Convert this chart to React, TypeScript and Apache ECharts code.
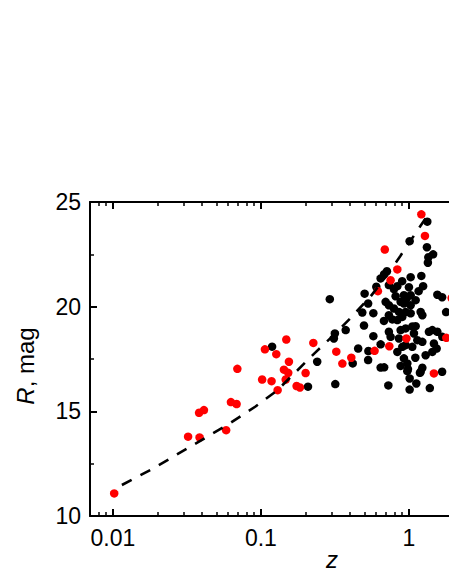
import React, { useEffect, useRef } from "react";
import * as echarts from "echarts";

// ---- data (z = redshift, R = magnitude) ----
const redZ = [0.0102, 0.0322, 0.0385, 0.0382, 0.0412, 0.0582, 0.0627, 0.0685, 0.0693, 0.1064, 0.127, 0.1484, 0.1546, 0.143, 0.153, 0.1019, 0.118, 0.147, 0.1297, 0.1742, 0.1835, 0.2004, 0.226, 0.323, 0.355, 0.408, 0.586, 0.737, 0.962, 1.475, 1.789, 1.213, 1.283, 0.687, 0.835, 0.752, 0.617, 1.944];
const redR = [11.08, 13.79, 13.75, 14.93, 15.06, 14.1, 15.44, 15.35, 17.03, 17.96, 17.73, 18.43, 17.37, 16.99, 16.84, 16.52, 16.44, 16.52, 16.01, 16.21, 16.14, 16.83, 18.27, 17.85, 17.28, 17.56, 17.89, 18.11, 18.48, 16.81, 18.51, 24.41, 23.38, 22.73, 21.78, 21.26, 20.74, 20.41];

const blackZ = [0.119, 0.208, 0.24, 0.292, 0.316, 0.311, 0.318, 0.374, 0.417, 0.454, 0.484, 0.497, 0.502, 0.53, 0.532, 0.53, 0.575, 0.575, 0.644, 0.644, 0.68, 0.726, 0.602, 0.644, 0.68, 0.71, 0.732, 0.792, 0.835, 0.9, 1.011, 1.027, 1.0, 1.027, 1.213, 1.247, 1.331, 1.323, 1.457, 1.352, 1.343, 1.556, 1.676, 1.783, 0.696, 0.732, 0.792, 0.856, 0.879, 0.925, 0.965, 0.925, 1.027, 0.95, 1.027, 1.2, 1.232, 0.732, 0.678, 0.772, 0.835, 0.902, 1.054, 1.11, 0.95, 0.879, 0.732, 0.752, 0.856, 1.081, 1.14, 1.232, 1.365, 1.439, 1.556, 1.681, 1.475, 0.95, 1.054, 0.835, 0.902, 1.297, 1.439, 1.539, 0.879, 0.925, 0.975, 0.985, 1.105, 1.2, 1.232, 1.676, 0.975, 1.011, 1.011, 1.122, 1.187, 1.384, 0.813, 1.11, 1.163];
const blackR = [18.09, 16.18, 17.37, 20.36, 18.72, 18.48, 16.3, 18.88, 17.29, 18.0, 19.72, 19.1, 20.62, 20.15, 17.88, 17.45, 19.69, 18.59, 18.2, 17.09, 17.1, 16.24, 20.95, 21.35, 21.55, 21.69, 21.03, 20.84, 20.98, 21.22, 23.13, 21.41, 20.93, 20.55, 21.47, 20.98, 24.06, 22.84, 22.5, 22.36, 22.1, 20.57, 20.45, 19.74, 20.23, 20.07, 19.91, 19.75, 20.23, 20.15, 20.39, 20.55, 20.07, 19.75, 19.68, 19.75, 19.59, 19.59, 19.32, 19.39, 19.36, 19.51, 19.05, 19.07, 18.96, 18.88, 18.8, 18.56, 18.48, 18.72, 18.4, 18.32, 18.8, 18.88, 18.8, 18.56, 18.24, 18.16, 18.08, 17.84, 18.08, 17.68, 17.84, 18.0, 17.17, 17.53, 17.29, 17.02, 17.56, 16.89, 17.08, 16.89, 16.92, 16.57, 16.04, 16.33, 16.84, 16.11, 20.5, 20.31, 20.74];

// dashed model curve
const curveZ = [0.0115, 0.0179, 0.0244, 0.0333, 0.0454, 0.0621, 0.0914, 0.128, 0.168, 0.23, 0.31, 0.401, 0.548, 0.71, 0.873, 1.104, 1.355];
const curveR = [11.48, 12.2, 12.75, 13.31, 13.87, 14.44, 15.22, 15.98, 16.81, 17.77, 18.64, 19.44, 20.47, 21.5, 22.41, 23.49, 24.42];

// axis ticks
const majorTicksZ = [0.01, 0.1, 1];
const minorTicksZ = [0.008, 0.009, 0.02, 0.03, 0.04, 0.05, 0.06, 0.07, 0.08, 0.09, 0.2, 0.3, 0.4, 0.5, 0.6, 0.7, 0.8, 0.9, 2, 3];
const zMin = 0.007;
const zMax = 3.53;
const rMin = 10;
const rMax = 25;
const rStep = 5;

const lg = (v: number) => Math.log10(v);
const FONT = "'Liberation Sans', Arial, Helvetica, sans-serif";

export default function App() {
  const ref = useRef<HTMLDivElement>(null);
  useEffect(() => {
    if (!ref.current) return;
    const chart = echarts.init(ref.current, undefined, { renderer: "svg" });
    const xBase = {
      type: "value" as const,
      min: lg(zMin),
      max: lg(zMax),
      gridIndex: 0,
      splitLine: { show: false },
      axisLine: { show: true, onZero: false, lineStyle: { color: "#000", width: 2 } },
    };
    const majorVals = majorTicksZ.map(lg);
    const minorVals = minorTicksZ.map(lg);
    chart.setOption({
      animation: false,
      backgroundColor: "#fff",
      grid: { left: 90, top: 202, width: 400, height: 314 },
      xAxis: [
        {
          ...xBase,
          position: "bottom",
          axisTick: { show: true, inside: true, length: 7, customValues: majorVals, lineStyle: { color: "#000", width: 2 } },
          axisLabel: {
            show: true,
            customValues: majorVals,
            margin: 10,
            color: "#000",
            fontSize: 23,
            fontFamily: FONT,
            formatter: (v: number) => String(+Math.pow(10, v).toPrecision(3)),
          },
        },
        {
          ...xBase,
          position: "bottom",
          axisLine: { show: false, onZero: false },
          axisTick: { show: true, inside: true, length: 4, customValues: minorVals, lineStyle: { color: "#000", width: 1.5 } },
          axisLabel: { show: false },
        },
        {
          ...xBase,
          position: "top",
          axisTick: { show: true, inside: true, length: 7, customValues: majorVals, lineStyle: { color: "#000", width: 2 } },
          axisLabel: { show: false },
        },
        {
          ...xBase,
          position: "top",
          axisLine: { show: false, onZero: false },
          axisTick: { show: true, inside: true, length: 4, customValues: minorVals, lineStyle: { color: "#000", width: 1.5 } },
          axisLabel: { show: false },
        },
      ],
      yAxis: [
        {
          type: "value",
          min: rMin,
          max: rMax,
          interval: rStep,
          position: "left",
          splitLine: { show: false },
          axisLine: { show: true, onZero: false, lineStyle: { color: "#000", width: 2 } },
          axisTick: { show: true, inside: true, length: 7, lineStyle: { color: "#000", width: 2 } },
          minorTick: { show: true, splitNumber: 2, length: 4, lineStyle: { color: "#000", width: 1.5 } },
          axisLabel: { margin: 9, color: "#000", fontSize: 23, fontFamily: FONT },
        },
      ],
      graphic: [
        {
          type: "text",
          x: 25,
          y: 366,
          rotation: Math.PI / 2,
          style: {
            text: "{i|R}{n|, mag}",
            align: "center",
            verticalAlign: "middle",
            fill: "#000",
            rich: {
              i: { fontSize: 24, fontStyle: "italic", fontFamily: FONT, fill: "#000" },
              n: { fontSize: 24, fontFamily: FONT, fill: "#000" },
            },
          },
        },
        {
          type: "text",
          x: 332,
          y: 559,
          style: {
            text: "z",
            align: "center",
            verticalAlign: "middle",
            fontSize: 24,
            fontStyle: "italic",
            fontFamily: FONT,
            fill: "#000",
          },
        },
      ],
      series: [
        {
          type: "scatter",
          symbol: "circle",
          symbolSize: 8.5,
          itemStyle: { color: "#000", opacity: 1 },
          z: 2,
          data: blackZ.map((z, i) => [lg(z), blackR[i]]),
        },
        {
          type: "scatter",
          symbol: "circle",
          symbolSize: 8.5,
          itemStyle: { color: "#ff0000", opacity: 1 },
          z: 3,
          data: redZ.map((z, i) => [lg(z), redR[i]]),
        },
        {
          type: "line",
          symbol: "none",
          showSymbol: false,
          z: 4,
          lineStyle: { color: "#000", width: 2.6, type: [11, 10] },
          data: curveZ.map((z, i) => [lg(z), curveR[i]]),
        },
      ],
    });
    return () => chart.dispose();
  }, []);
  return (
    <div style={{ position: "absolute", left: 0, top: 0, width: 449, height: 580, overflow: "hidden", background: "#fff" }}>
      <div ref={ref} style={{ width: 520, height: 580 }} />
    </div>
  );
}
